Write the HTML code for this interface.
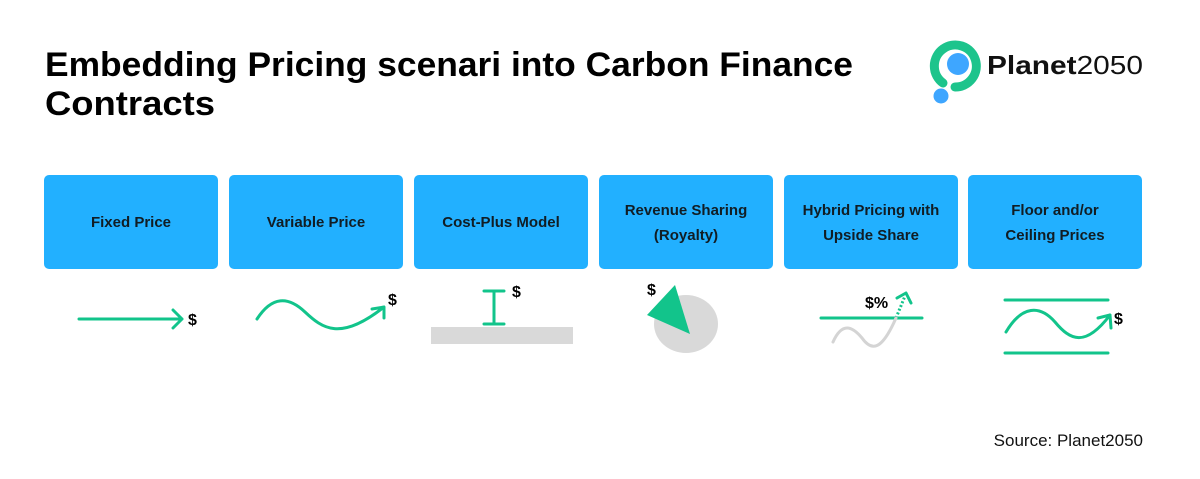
<!DOCTYPE html>
<html><head><meta charset="utf-8"><style>
body{margin:0;background:#fff;width:1200px;height:474px;overflow:hidden;font-family:"Liberation Sans",sans-serif}
</style></head><body>
<svg width="1200" height="474" viewBox="0 0 1200 474" xmlns="http://www.w3.org/2000/svg" font-family="Liberation Sans, sans-serif">
<text x="45" y="76" font-size="34" font-weight="bold" fill="#000" textLength="808" lengthAdjust="spacingAndGlyphs">Embedding Pricing scenari into Carbon Finance</text>
<text x="45" y="115" font-size="34" font-weight="bold" fill="#000" textLength="170" lengthAdjust="spacingAndGlyphs">Contracts</text>
<!-- logo -->
<path d="M943 83 A21 21 0 1 1 955 87" fill="none" stroke="#1dc48c" stroke-width="9" stroke-linecap="round"/>
<circle cx="958" cy="64" r="11" fill="#3ea6ff"/>
<circle cx="941" cy="96" r="7.5" fill="#3ea6ff"/>
<text x="987" y="74" font-size="26" fill="#111" textLength="156" lengthAdjust="spacingAndGlyphs"><tspan font-weight="bold">Planet</tspan>2050</text>
<!-- boxes -->
<g fill="#22b0ff">
<rect x="44" y="175" width="174" height="94" rx="5"/>
<rect x="229" y="175" width="174" height="94" rx="5"/>
<rect x="414" y="175" width="174" height="94" rx="5"/>
<rect x="599" y="175" width="174" height="94" rx="5"/>
<rect x="784" y="175" width="174" height="94" rx="5"/>
<rect x="968" y="175" width="174" height="94" rx="5"/>
</g>
<g font-size="15" font-weight="bold" fill="#111d24" text-anchor="middle">
<text x="131" y="227">Fixed Price</text>
<text x="316" y="227">Variable Price</text>
<text x="501" y="227">Cost-Plus Model</text>
<text x="686" y="215">Revenue Sharing</text>
<text x="686" y="240">(Royalty)</text>
<text x="871" y="215">Hybrid Pricing with</text>
<text x="871" y="240">Upside Share</text>
<text x="1055" y="215">Floor and/or</text>
<text x="1055" y="240">Ceiling Prices</text>
</g>
<g fill="none" stroke="#12c48b" stroke-width="3" stroke-linecap="round" stroke-linejoin="round">
<path d="M79 319 H182 M173 310 L182 319 L173 328"/>
<path d="M257 319 C272 296 288 296 305 312 C322 328 340 342 384 307 M372 309 L384 307 L384 318"/>
<path d="M484 291 H504 M494 291 V324 M484 324 H504"/>
<path d="M821 318 H922"/>
<path d="M1005 300 H1108 M1005 353 H1108"/>
<path d="M1006 332 C1022 305 1040 305 1055 322 C1070 340 1085 348 1110 315 M1098 318 L1110 315 L1111 328"/>
<path d="M896 318 L905 296" stroke-dasharray="2 2" stroke-linecap="butt"/>
<path d="M897 298 L906 293 L911 303"/>
</g>
<path d="M833 342 C842 322 852 326 862 338 C872 352 882 350 896 318" fill="none" stroke="#d4d4d4" stroke-width="3" stroke-linecap="round"/>
<rect x="431" y="327" width="142" height="17" fill="#d9d9d9"/>
<ellipse cx="686" cy="324" rx="32" ry="29" fill="#d9d9d9"/>
<polygon points="647,315 675,285 690,334" fill="#12c48b"/>
<g font-size="16" font-weight="bold" fill="#000">
<text x="188" y="325">$</text>
<text x="388" y="305">$</text>
<text x="512" y="297">$</text>
<text x="647" y="295">$</text>
<text x="865" y="308">$%</text>
<text x="1114" y="324">$</text>
</g>
<text x="1143" y="446" font-size="17" fill="#111" text-anchor="end">Source: Planet2050</text>
</svg>
</body></html>
